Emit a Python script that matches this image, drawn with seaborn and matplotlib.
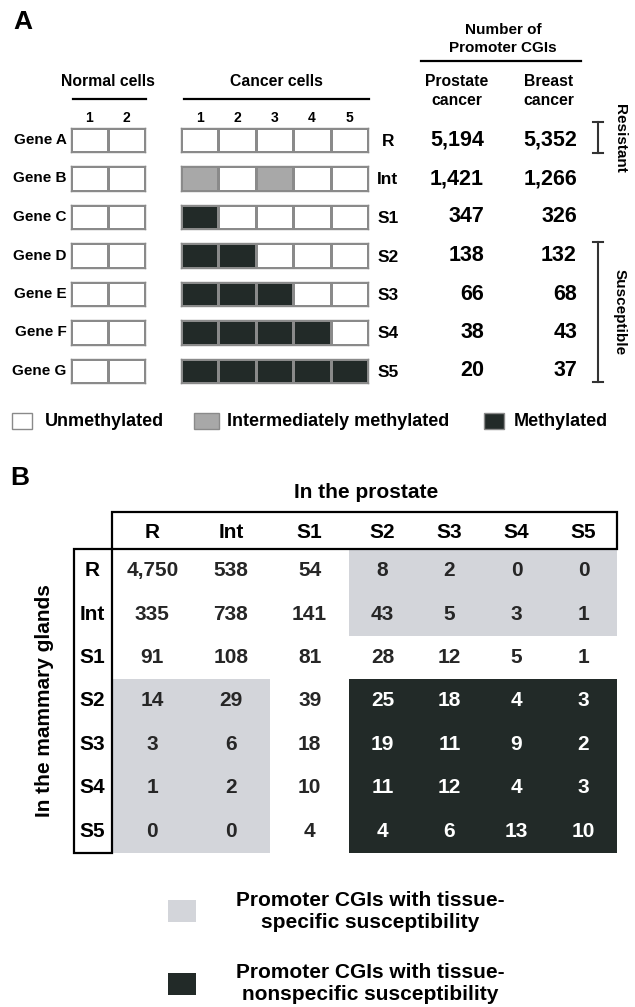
import numpy as np
import matplotlib
matplotlib.use("Agg")
import matplotlib.pyplot as plt
from matplotlib.colors import ListedColormap
from matplotlib.patches import Rectangle
import seaborn as sns

plt.rcParams['font.family'] = ['Liberation Sans', 'DejaVu Sans']
plt.rcParams['font.weight'] = 'bold'
plt.rcParams['axes.labelweight'] = 'bold'

# ---------------- data ----------------
genes = ["Gene A", "Gene B", "Gene C", "Gene D", "Gene E", "Gene F", "Gene G"]
gene_classes = ["R", "Int", "S1", "S2", "S3", "S4", "S5"]
normal_cols = ["1", "2"]
cancer_cols = ["1", "2", "3", "4", "5"]
# 0 = unmethylated, 1 = intermediately methylated, 2 = methylated
normal_state = [[0, 0]] * 7
cancer_state = [
    [0, 0, 0, 0, 0],
    [1, 0, 1, 0, 0],
    [2, 0, 0, 0, 0],
    [2, 2, 0, 0, 0],
    [2, 2, 2, 0, 0],
    [2, 2, 2, 2, 0],
    [2, 2, 2, 2, 2],
]
state_names = ["Unmethylated", "Intermediately methylated", "Methylated"]
prostate_cgis = [5194, 1421, 347, 138, 66, 38, 20]
breast_cgis = [5352, 1266, 326, 132, 68, 43, 37]

prostate_classes = ["R", "Int", "S1", "S2", "S3", "S4", "S5"]
mammary_classes = ["R", "Int", "S1", "S2", "S3", "S4", "S5"]
overlap_counts = [
    [4750, 538, 54, 8, 2, 0, 0],
    [335, 738, 141, 43, 5, 3, 1],
    [91, 108, 81, 28, 12, 5, 1],
    [14, 29, 39, 25, 18, 4, 3],
    [3, 6, 18, 19, 11, 9, 2],
    [1, 2, 10, 11, 12, 4, 3],
    [0, 0, 4, 4, 6, 13, 10],
]
# 0 = none, 1 = tissue-specific, 2 = tissue-nonspecific susceptibility
susceptibility_group = [
    [0, 0, 0, 1, 1, 1, 1],
    [0, 0, 0, 1, 1, 1, 1],
    [0, 0, 0, 0, 0, 0, 0],
    [1, 1, 0, 2, 2, 2, 2],
    [1, 1, 0, 2, 2, 2, 2],
    [1, 1, 0, 2, 2, 2, 2],
    [1, 1, 0, 2, 2, 2, 2],
]
group_names = ["Promoter CGIs with tissue-\nspecific susceptibility",
               "Promoter CGIs with tissue-\nnonspecific susceptibility"]

# ---------------- style ----------------
WHITE = "#ffffff"
INTER = "#a8a8a8"
DARK = "#222a28"
LIGHT = "#d3d5da"
EDGE = "#8a8a8a"

W, H = 635, 1007
fig = plt.figure(figsize=(W / 100, H / 100), dpi=100)
fig.patch.set_facecolor("white")


def px_axes(x0, y0, x1, y1):
    return fig.add_axes([x0 / W, 1 - y1 / H, (x1 - x0) / W, (y1 - y0) / H])


ov = px_axes(0, 0, W, H)
ov.set_xlim(0, W)
ov.set_ylim(H, 0)
ov.axis("off")
ov.set_zorder(5)
ov.patch.set_alpha(0)

# ---------------- panel A ----------------
state_cmap = ListedColormap([WHITE, INTER, DARK])
row_top0, row_step, row_h = 128, 38.5, 24
for i, g in enumerate(genes):
    top = row_top0 + row_step * i
    axn = px_axes(71, top, 145, top + row_h)
    sns.heatmap(np.array([normal_state[i]]), ax=axn, cmap=state_cmap, vmin=0, vmax=2,
                cbar=False, linewidths=1, linecolor=EDGE,
                xticklabels=normal_cols if i == 0 else False, yticklabels=[g])
    axc = px_axes(181, top, 368, top + row_h)
    sns.heatmap(np.array([cancer_state[i]]), ax=axc, cmap=state_cmap, vmin=0, vmax=2,
                cbar=False, linewidths=1, linecolor=EDGE,
                xticklabels=cancer_cols if i == 0 else False, yticklabels=[gene_classes[i]])
    for ax in (axn, axc):
        for sp in ax.spines.values():
            sp.set_visible(True)
            sp.set_color(EDGE)
            sp.set_linewidth(1)
        ax.xaxis.tick_top()
        ax.tick_params(axis="x", length=0, pad=2, labelsize=10)
        ax.tick_params(axis="y", length=0)
        ax.set_xlabel("")
        ax.set_ylabel("")
    axn.tick_params(axis="y", pad=3, labelsize=11)
    for lab in axn.get_yticklabels():
        lab.set_rotation(0)
        lab.set_fontweight("bold")
    axc.yaxis.tick_right()
    axc.tick_params(axis="y", pad=14.4, labelsize=12.5, length=0)
    for lab in axc.get_yticklabels():
        lab.set_rotation(0)
        lab.set_ha("center")
        lab.set_fontweight("bold")
    for ax in (axn, axc):
        for lab in ax.get_xticklabels():
            lab.set_fontweight("bold")
    cy = top + row_h / 2
    ov.text(484, cy, f"{prostate_cgis[i]:,}", ha="right", va="center", fontsize=15.5)
    ov.text(577, cy, f"{breast_cgis[i]:,}", ha="right", va="center", fontsize=15.5)

ov.text(23, 22, "A", ha="center", va="center", fontsize=19)
ov.text(503, 39, "Number of\nPromoter CGIs", ha="center", va="center", fontsize=11,
        linespacing=1.3)
ov.plot([421, 581], [61, 61], color="black", lw=1.6)
ov.text(108, 82, "Normal cells", ha="center", va="center", fontsize=11.3)
ov.plot([73, 146], [99, 99], color="black", lw=1.6)
ov.text(276, 82, "Cancer cells", ha="center", va="center", fontsize=11.3)
ov.plot([184, 369], [99, 99], color="black", lw=1.6)
ov.text(457, 91, "Prostate\ncancer", ha="center", va="center", fontsize=11.3, linespacing=1.3)
ov.text(549, 91, "Breast\ncancer", ha="center", va="center", fontsize=11.3, linespacing=1.3)

# brackets
ov.plot([598, 598], [122, 153], color="#333333", lw=1.5)
ov.plot([593, 603], [122, 122], color="#333333", lw=1.5)
ov.plot([593, 603], [153, 153], color="#333333", lw=1.5)
ov.text(620, 138, "Resistant", rotation=270, ha="center", va="center", fontsize=11)
ov.plot([598, 598], [242, 382], color="#333333", lw=1.5)
ov.plot([593, 603], [242, 242], color="#333333", lw=1.5)
ov.plot([593, 603], [382, 382], color="#333333", lw=1.5)
ov.text(620, 312, "Susceptible", rotation=270, ha="center", va="center", fontsize=11)

# legend A
leg_boxes = [(12, 32, 45), (194, 219, 227), (484, 504, 514)]
for (bx0, bx1, tx), col, name in zip(leg_boxes, [WHITE, INTER, DARK], state_names):
    ov.add_patch(Rectangle((bx0, 413), bx1 - bx0, 16, facecolor=col, edgecolor=EDGE, lw=1))
    ov.text(tx, 421, name, ha="left", va="center", fontsize=13)

# ---------------- panel B ----------------
grp = np.array(susceptibility_group)
annot = np.array([[f"{v:,}" for v in row] for row in overlap_counts], dtype=object)
grp_cmap = ListedColormap([WHITE, LIGHT, DARK])
axL = px_axes(113, 549, 349, 853)
axR = px_axes(349, 549, 617, 853)
sns.heatmap(grp[:, :3], annot=annot[:, :3], fmt="", cmap=grp_cmap, vmin=0, vmax=2, cbar=False,
            xticklabels=prostate_classes[:3], yticklabels=mammary_classes, ax=axL,
            annot_kws=dict(fontsize=15, fontweight="bold"))
sns.heatmap(grp[:, 3:], annot=annot[:, 3:], fmt="", cmap=grp_cmap, vmin=0, vmax=2, cbar=False,
            xticklabels=prostate_classes[3:], yticklabels=False, ax=axR,
            annot_kws=dict(fontsize=15, fontweight="bold"))
for ax in (axL, axR):
    ax.xaxis.tick_top()
    ax.tick_params(axis="x", length=0, pad=5, labelsize=15)
    ax.set_xlabel("")
    ax.set_ylabel("")
    for lab in ax.get_xticklabels():
        lab.set_fontweight("bold")
        lab.set_rotation(0)
axL.tick_params(axis="y", length=0, pad=15, labelsize=15)
for lab in axL.get_yticklabels():
    lab.set_rotation(0)
    lab.set_ha("center")
    lab.set_fontweight("bold")

ov.add_patch(Rectangle((112, 512), 505, 37, fill=False, edgecolor="black", lw=1.6))
ov.add_patch(Rectangle((74, 549), 38, 304, fill=False, edgecolor="black", lw=1.6))
ov.text(20, 478, "B", ha="center", va="center", fontsize=19)
ov.text(366, 493, "In the prostate", ha="center", va="center", fontsize=15)
ov.text(45, 701, "In the mammary glands", rotation=90, ha="center", va="center", fontsize=15)

# legend B
ov.add_patch(Rectangle((168, 900), 28, 22, facecolor=LIGHT, edgecolor="none"))
ov.text(370, 912, group_names[0], ha="center", va="center", fontsize=15, linespacing=1.2)
ov.add_patch(Rectangle((168, 973), 28, 22, facecolor=DARK, edgecolor="none"))
ov.text(370, 983, group_names[1], ha="center", va="center", fontsize=15, linespacing=1.2)

fig.savefig("out.png", dpi=100)
